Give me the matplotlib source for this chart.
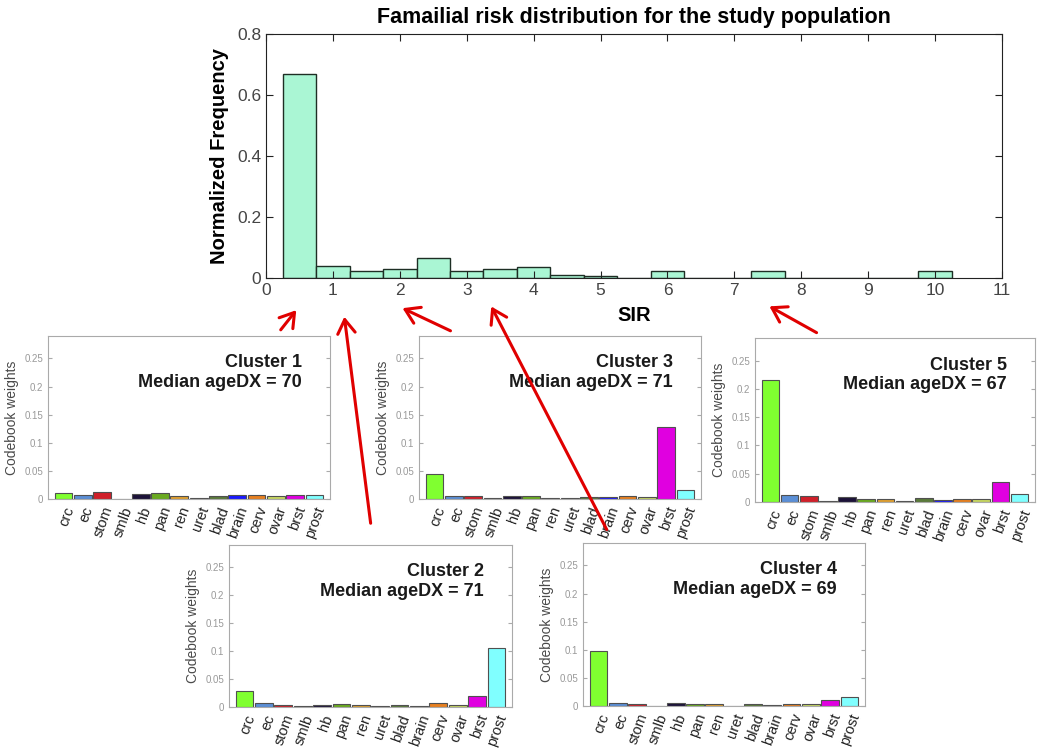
import matplotlib
matplotlib.use("Agg")
import matplotlib.pyplot as plt
from matplotlib.patches import FancyArrowPatch

# histogram of SIR (bin centres, normalized frequency)
sir_centres = [0.5, 1.0, 1.5, 2.0, 2.5, 3.0, 3.5, 4.0, 4.5, 5.0,
               5.5, 6.0, 6.5, 7.0, 7.5, 8.0, 8.5, 9.0, 9.5, 10.0]
sir_freq = [0.668, 0.039, 0.024, 0.028, 0.066, 0.024, 0.028, 0.036, 0.010, 0.0066,
            0.0, 0.022, 0.0, 0.0, 0.024, 0.0, 0.0, 0.0, 0.0, 0.024]

cancers = ["crc", "ec", "stom", "smlb", "hb", "pan", "ren", "uret",
           "blad", "brain", "cerv", "ovar", "brst", "prost"]
cancer_colors = ["#80ff30", "#5b8fd6", "#d0202a", "#a8a8a8", "#1c1238", "#6aaa20", "#e0a030",
                 "#b8b8b8", "#5a7a3a", "#1a1aff", "#e88020", "#c8d860", "#e000e0", "#80ffff"]

cluster1 = [0.0107, 0.0071, 0.013, 0.0006, 0.0095, 0.010, 0.006, 0.001,
            0.006, 0.008, 0.007, 0.0053, 0.008, 0.007]
cluster2 = [0.028, 0.0072, 0.0042, 0.0012, 0.003, 0.0054, 0.0036, 0.0012,
            0.0042, 0.0024, 0.0072, 0.003, 0.019, 0.1055]
cluster3 = [0.044, 0.006, 0.006, 0.001, 0.0047, 0.0053, 0.0024, 0.001,
            0.004, 0.003, 0.0053, 0.004, 0.128, 0.0153]
cluster4 = [0.098, 0.0047, 0.0041, 0.0006, 0.0053, 0.003, 0.003, 0.0006,
            0.0035, 0.0024, 0.003, 0.003, 0.010, 0.0165]
cluster5 = [0.215, 0.013, 0.010, 0.002, 0.009, 0.0053, 0.0047, 0.002,
            0.0065, 0.004, 0.0053, 0.0053, 0.0355, 0.0136]
median_age = [70, 71, 71, 69, 67]

W, H = 1050, 750
plt.rcParams["font.family"] = ["Liberation Sans", "DejaVu Sans"]


def box(l, t, r, b):
    # pixel box -> figure fraction rect
    return [l / W, 1 - b / H, (r - l) / W, (b - t) / H]


def fpos(x, y):
    return (x / W, 1 - y / H)


fig = plt.figure(figsize=(10.5, 7.5), dpi=100)

# top histogram
ax = fig.add_axes(box(266, 34, 1002, 278))
ax.bar(sir_centres, sir_freq, width=0.5, color="#aaf6d4", edgecolor="#1e2e24", linewidth=1.0)
ax.set_xlim(0, 11)
ax.set_ylim(0, 0.8)
ax.set_xticks(range(0, 12))
ax.set_yticks([0, 0.2, 0.4, 0.6, 0.8])
ax.set_yticklabels(["0", "0.2", "0.4", "0.6", "0.8"])
ax.tick_params(direction="in", top=True, right=True, length=5, labelsize=12.5,
               labelcolor="#444444", color="#222222")
for s in ax.spines.values():
    s.set_color("#222222")
ax.set_title("Famailial risk distribution for the study population",
             fontsize=15.5, fontweight="bold", pad=8)
ax.set_ylabel("Normalized Frequency", fontsize=14.5, fontweight="bold", labelpad=6)
ax.set_xlabel("SIR", fontsize=14.5, fontweight="bold", labelpad=6)

panels = [
    (cluster1, box(48, 336, 330, 499)),
    (cluster2, box(229, 545, 512, 707)),
    (cluster3, box(419, 336, 701, 499)),
    (cluster4, box(583, 543, 865, 706)),
    (cluster5, box(755, 338, 1035, 502)),
]

for i, (vals, rect) in enumerate(panels):
    a = fig.add_axes(rect)
    xs = list(range(1, len(cancers) + 1))
    a.bar(xs, vals, width=0.92, color=cancer_colors, edgecolor="#505050", linewidth=0.8)
    a.set_xlim(0.2, 14.8)
    a.set_ylim(0, 0.29)
    a.set_yticks([0, 0.05, 0.1, 0.15, 0.2, 0.25])
    a.set_yticklabels(["0", "0.05", "0.1", "0.15", "0.2", "0.25"])
    a.set_xticks(xs)
    a.set_xticklabels(cancers, rotation=70, ha="right", va="top", rotation_mode="anchor",
                      fontsize=10.5, color="#222222")
    a.tick_params(axis="y", direction="in", right=True, length=3, labelsize=7,
                  labelcolor="#999999", color="#aaaaaa")
    a.tick_params(axis="x", length=0, pad=4)
    for s in a.spines.values():
        s.set_color("#aaaaaa")
    a.set_ylabel("Codebook weights", fontsize=10, color="#4a4a4a", labelpad=4)
    a.text(0.90, 0.835, "Cluster %d" % (i + 1), transform=a.transAxes, ha="right",
           va="center", fontsize=13, fontweight="bold", color="#1a1a1a")
    a.text(0.90, 0.715, "Median ageDX = %d" % median_age[i], transform=a.transAxes,
           ha="right", va="center", fontsize=13, fontweight="bold", color="#1a1a1a")

# red arrows from the cluster panels to the SIR axis
arrows = [((279, 332), (298, 308)),
          ((371, 526), (344, 314)),
          ((453, 332), (400, 307)),
          ((608, 532), (490, 304)),
          ((819, 334), (767, 305))]
for tail, tip in arrows:
    p = FancyArrowPatch(fpos(*tail), fpos(*tip), transform=fig.transFigure,
                        arrowstyle="->,head_length=0.55,head_width=0.35",
                        mutation_scale=18, color="#e00000", lw=2.2, zorder=10)
    fig.add_artist(p)

fig.savefig("out.png", dpi=100)
